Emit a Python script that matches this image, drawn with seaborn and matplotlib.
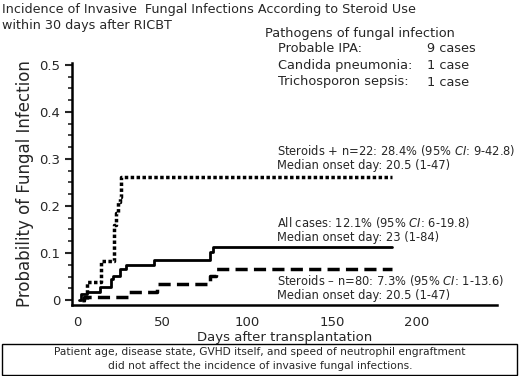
import numpy as np
import pandas as pd
import matplotlib
matplotlib.use("Agg")
import matplotlib.pyplot as plt
import seaborn as sns
from matplotlib.ticker import MultipleLocator
from matplotlib.patches import Rectangle

# curvas de incidencia acumulada
dias_ster_pos = [3, 6, 14, 22, 23, 24, 25, 26, 185]
inc_ster_pos = [0.0, 0.038, 0.083, 0.16, 0.185, 0.209, 0.22, 0.262, 0.262]

dias_todos = [1, 2, 6, 13.5, 20, 21, 25, 29, 45, 78, 80, 185]
inc_todos = [0.0, 0.013, 0.018, 0.028, 0.045, 0.051, 0.065, 0.074, 0.085, 0.103, 0.113, 0.113]

dias_ster_neg = [3, 4, 30, 47, 78, 82, 185]
inc_ster_neg = [0.0, 0.007, 0.018, 0.034, 0.051, 0.066, 0.066]

xticks = [0, 50, 100, 150, 200]
yticks = [0, 0.1, 0.2, 0.3, 0.4, 0.5]

sns.set_style("white")
plt.rcParams['font.family'] = ['DejaVu Sans']

fig = plt.figure(figsize=(5.2, 3.76), dpi=100)
ax = fig.add_axes([72 / 520, 1 - 305 / 376, (497 - 72) / 520, (305 - 63) / 376])

sns.lineplot(x=dias_ster_pos, y=inc_ster_pos, ax=ax, estimator=None, drawstyle='steps-post',
             color='black', lw=2.5, linestyle=(0, (1, 0.7)))
sns.lineplot(x=dias_todos, y=inc_todos, ax=ax, estimator=None, drawstyle='steps-post',
             color='black', lw=2)
sns.lineplot(x=dias_ster_neg, y=inc_ster_neg, ax=ax, estimator=None, drawstyle='steps-post',
             color='black', lw=2.5, linestyle=(0, (3.5, 1.8)))

ax.set_xlim(-3, 247)
ax.set_ylim(-0.0106, 0.504)
ax.set_xticks(xticks)
ax.set_yticks(yticks)
ax.set_yticklabels(['0', '0.1', '0.2', '0.3', '0.4', '0.5'])
ax.yaxis.set_minor_locator(MultipleLocator(0.025))
ax.tick_params(axis='x', length=0, labelsize=9.5, pad=8)
ax.tick_params(axis='y', which='major', length=5, width=1.5, labelsize=9.5, left=True)
ax.tick_params(axis='y', which='minor', length=3, width=1.2, left=True)
for s in ['top', 'right']:
    ax.spines[s].set_visible(False)
for s in ['left', 'bottom']:
    ax.spines[s].set_linewidth(1.8)
    ax.spines[s].set_color('black')

ax.set_xlabel('Days after transplantation', fontsize=9.5, labelpad=1)
ax.set_ylabel('Probability of Fungal Infection', fontsize=12, labelpad=4)

# titulo
fig.text(2 / 520, 1 - 10 / 376, 'Incidence of Invasive  Fungal Infections According to Steroid Use',
         fontsize=9.2, va='center', ha='left')
fig.text(2 / 520, 1 - 25 / 376, 'within 30 days after RICBT',
         fontsize=9.2, va='center', ha='left')

# patogenos
fig.text(265 / 520, 1 - 33 / 376, 'Pathogens of fungal infection', fontsize=9.3, va='center')
pat = ['Probable IPA:', 'Candida pneumonia:', 'Trichosporon sepsis:']
casos = ['9 cases', '1 case', '1 case']
for i, (p, c) in enumerate(zip(pat, casos)):
    fig.text(278 / 520, 1 - (49 + 16.5 * i) / 376, p, fontsize=9.3, va='center')
    fig.text(427 / 520, 1 - (49 + 16.5 * i) / 376, c, fontsize=9.3, va='center')

# anotaciones
notas = [
    (150, 'Steroids + n=22: 28.4% (95% $\\it{CI}$: 9-42.8)', 'Median onset day: 20.5 (1-47)'),
    (223, 'All cases: 12.1% (95% $\\it{CI}$: 6-19.8)', 'Median onset day: 23 (1-84)'),
    (281, 'Steroids \u2013 n=80: 7.3% (95% $\\it{CI}$: 1-13.6)', 'Median onset day: 20.5 (1-47)'),
]
for y, l1, l2 in notas:
    fig.text(277 / 520, 1 - y / 376, l1, fontsize=8.3, va='center')
    fig.text(277 / 520, 1 - (y + 15) / 376, l2, fontsize=8.3, va='center')

# caja inferior
fig.patches.append(Rectangle((2 / 520, 1 / 376), 515 / 520, 31 / 376, transform=fig.transFigure,
                             fill=False, edgecolor='black', lw=1))
fig.text(0.5, 1 - 352 / 376, 'Patient age, disease state, GVHD itself, and speed of neutrophil engraftment',
         fontsize=7.7, ha='center', va='center')
fig.text(0.5, 1 - 366 / 376, 'did not affect the incidence of invasive fungal infections.',
         fontsize=7.7, ha='center', va='center')

fig.savefig('out.png', dpi=100)
